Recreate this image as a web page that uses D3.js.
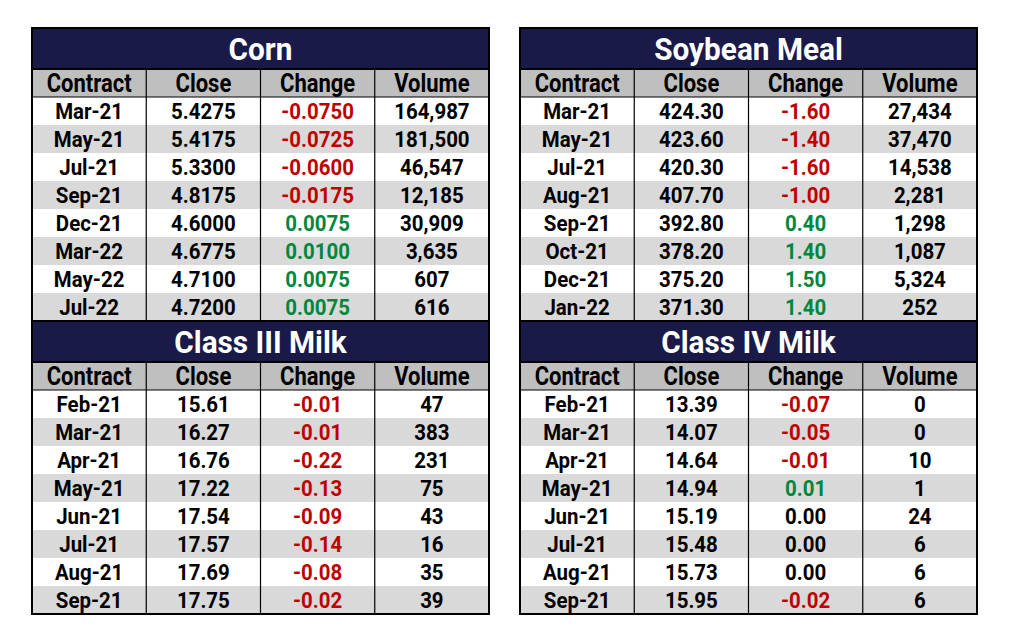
<!DOCTYPE html>
<html>
<head>
<meta charset="utf-8">
<script src="https://cdn.jsdelivr.net/npm/d3@7"></script>
<style>
  body { margin: 0; background: #fff; }
  svg text { font-family: Roboto, "Noto Sans", sans-serif; font-weight: bold; }
</style>
</head>
<body>
<div id="chart"></div>
<script>

// table data

var headers = ["Contract", "Close", "Change", "Volume"]

var cornContracts = ["Mar-21", "May-21", "Jul-21", "Sep-21", "Dec-21", "Mar-22", "May-22", "Jul-22"]
var cornClose = ["5.4275", "5.4175", "5.3300", "4.8175", "4.6000", "4.6775", "4.7100", "4.7200"]
var cornChange = ["-0.0750", "-0.0725", "-0.0600", "-0.0175", "0.0075", "0.0100", "0.0075", "0.0075"]
var cornVolume = ["164,987", "181,500", "46,547", "12,185", "30,909", "3,635", "607", "616"]

var mealContracts = ["Mar-21", "May-21", "Jul-21", "Aug-21", "Sep-21", "Oct-21", "Dec-21", "Jan-22"]
var mealClose = ["424.30", "423.60", "420.30", "407.70", "392.80", "378.20", "375.20", "371.30"]
var mealChange = ["-1.60", "-1.40", "-1.60", "-1.00", "0.40", "1.40", "1.50", "1.40"]
var mealVolume = ["27,434", "37,470", "14,538", "2,281", "1,298", "1,087", "5,324", "252"]

var milk3Contracts = ["Feb-21", "Mar-21", "Apr-21", "May-21", "Jun-21", "Jul-21", "Aug-21", "Sep-21"]
var milk3Close = ["15.61", "16.27", "16.76", "17.22", "17.54", "17.57", "17.69", "17.75"]
var milk3Change = ["-0.01", "-0.01", "-0.22", "-0.13", "-0.09", "-0.14", "-0.08", "-0.02"]
var milk3Volume = ["47", "383", "231", "75", "43", "16", "35", "39"]

var milk4Contracts = ["Feb-21", "Mar-21", "Apr-21", "May-21", "Jun-21", "Jul-21", "Aug-21", "Sep-21"]
var milk4Close = ["13.39", "14.07", "14.64", "14.94", "15.19", "15.48", "15.73", "15.95"]
var milk4Change = ["-0.07", "-0.05", "-0.01", "0.01", "0.00", "0.00", "0.00", "-0.02"]
var milk4Volume = ["0", "0", "10", "1", "24", "6", "6", "6"]

var panels = [
	{ title: "Corn", col: 0, row: 0, cols: [cornContracts, cornClose, cornChange, cornVolume] },
	{ title: "Soybean Meal", col: 1, row: 0, cols: [mealContracts, mealClose, mealChange, mealVolume] },
	{ title: "Class III Milk", col: 0, row: 1, cols: [milk3Contracts, milk3Close, milk3Change, milk3Volume] },
	{ title: "Class IV Milk", col: 1, row: 1, cols: [milk4Contracts, milk4Close, milk4Change, milk4Volume] }
]

var width = 1010
var height = 643

var tableW = 457
var titleH = 41
var rowH = 28
var nRows = 8
var tableH = titleH + rowH * (nRows + 1)

var panelX = d3.scaleOrdinal().domain([0, 1]).range([32, 520])
var panelY = d3.scaleOrdinal().domain([0, 1]).range([28, 28 + tableH])

var colX = d3.scaleBand().domain(d3.range(headers.length)).range([0, tableW])
var rowY = d3.scaleBand().domain(d3.range(-1, nRows)).range([titleH, tableH])

var navy = "#1a1a48"
var headGray = "#bfbfbf"
var stripe = "#d9d9d9"

function changeColor(v) {
	var n = parseFloat(v)
	if (n < 0) return "#c00000"
	if (n > 0) return "#00873e"
	return "#000"
}

// narrow the glyphs a little, the original font is a condensed one
function place(x, y, sx) {
	return `translate(${x},${y}) scale(${sx},1)`
}

var svg = d3.select("#chart")
	.append("svg")
	.attr("width", width)
	.attr("height", height)

var g = svg.selectAll("g.panel")
	.data(panels)
	.join("g")
	.attr("class", "panel")
	.attr("transform", d => `translate(${panelX(d.col)},${panelY(d.row)})`)

// title band
g.append("rect")
	.attr("width", tableW)
	.attr("height", titleH)
	.attr("fill", navy)

g.append("text")
	.attr("transform", place(tableW / 2, titleH / 2 + 11.5, 0.93))
	.attr("text-anchor", "middle")
	.attr("font-size", 32)
	.attr("fill", "#fff")
	.text(d => d.title)

// header row
g.append("rect")
	.attr("y", rowY(-1))
	.attr("width", tableW)
	.attr("height", rowH)
	.attr("fill", headGray)

g.selectAll("text.head")
	.data(headers)
	.join("text")
	.attr("class", "head")
	.attr("transform", (d, i) => place(colX(i) + colX.bandwidth() / 2, rowY(-1) + rowH / 2 + 9, 0.88))
	.attr("text-anchor", "middle")
	.attr("font-size", 25)
	.attr("fill", "#000")
	.text(d => d)

// body stripes
g.selectAll("rect.row")
	.data(d3.range(nRows))
	.join("rect")
	.attr("class", "row")
	.attr("y", d => rowY(d))
	.attr("width", tableW)
	.attr("height", rowH)
	.attr("fill", d => d % 2 ? stripe : "#fff")

// cells
g.each(function(p) {

	var cells = []

	p.cols.forEach((col, c) => {
		col.forEach((v, r) => cells.push({ c: c, r: r, v: v }))
	})

	d3.select(this).selectAll("text.cell")
		.data(cells)
		.join("text")
		.attr("class", "cell")
		.attr("transform", d => place(colX(d.c) + colX.bandwidth() / 2, rowY(d.r) + rowH / 2 + 8, 0.93))
		.attr("text-anchor", "middle")
		.attr("font-size", 22)
		.attr("fill", d => d.c == 2 ? changeColor(d.v) : "#000")
		.text(d => d.v)
})

// grid lines
g.selectAll("line.vert")
	.data(d3.range(1, headers.length))
	.join("line")
	.attr("class", "vert")
	.attr("x1", d => colX(d))
	.attr("x2", d => colX(d))
	.attr("y1", titleH)
	.attr("y2", tableH)
	.attr("stroke", "#000")
	.attr("stroke-width", 1.2)

g.append("line")
	.attr("x1", 0)
	.attr("x2", tableW)
	.attr("y1", titleH)
	.attr("y2", titleH)
	.attr("stroke", "#000")
	.attr("stroke-width", 2)

g.append("line")
	.attr("x1", 0)
	.attr("x2", tableW)
	.attr("y1", rowY(0))
	.attr("y2", rowY(0))
	.attr("stroke", "#000")
	.attr("stroke-width", 1)

g.append("rect")
	.attr("width", tableW)
	.attr("height", tableH)
	.attr("fill", "none")
	.attr("stroke", "#000")
	.attr("stroke-width", 2)

</script>
</body>
</html>
